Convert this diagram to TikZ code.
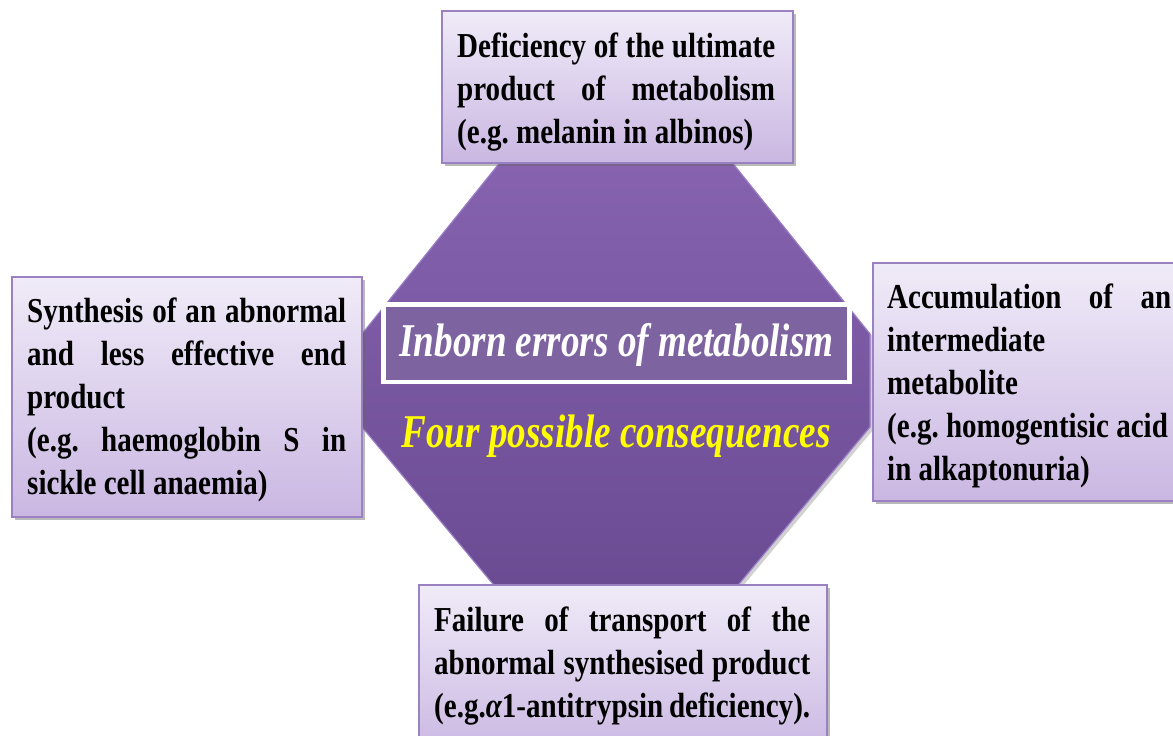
\documentclass[tikz,border=0pt]{standalone}
\usepackage{fontspec}
\setmainfont{Liberation Serif}
\newfontfamily\boxfont[FakeStretch=0.83]{Liberation Serif}
\newfontfamily\ttlfont[FakeStretch=0.79]{Liberation Serif}
\usetikzlibrary{shadows}
\frenchspacing
\definecolor{boxtop}{HTML}{F0EBF8}
\definecolor{boxbot}{HTML}{CAB7E2}
\definecolor{boxline}{HTML}{9A82C2}
\definecolor{octtop}{HTML}{8763B0}
\definecolor{octbot}{HTML}{6A4B92}
\definecolor{ttlfill}{HTML}{7E63A1}
\definecolor{octrim}{HTML}{9A7DC8}
\definecolor{subyellow}{HTML}{FFFF00}
\tikzset{
  cbox/.style={draw=boxline, line width=1.5pt, top color=boxtop, bottom color=boxbot,
    inner sep=0pt, anchor=north west,
    drop shadow={shadow xshift=3pt, shadow yshift=-3pt, opacity=0.45, fill=black!60}},
  btext/.style={anchor=base west, inner sep=0pt, text=black,
    font=\frenchspacing\boxfont\bfseries\fontsize{35}{43}\selectfont},
  bigtext/.style={inner sep=0pt, font=\ttlfont\bfseries\itshape\fontsize{47}{52}\selectfont},
}
\begin{document}
\begin{tikzpicture}[x=1pt,y=-1pt]
\clip (0,0) rectangle (1173,736);
\fill[white] (0,0) rectangle (1173,736);

% central octagon
\fill[black, opacity=0.18] (513,153) -- (365,337) -- (365,430) -- (506,599) -- (732,599) -- (873,430) -- (873,337) -- (725,153) -- cycle;
\draw[octrim, line width=1.2pt, top color=octtop, bottom color=octbot]
  (510,150) -- (362,334) -- (362,427) -- (503,596) -- (729,596) -- (870,427) -- (870,334) -- (722,150) -- cycle;

% title and subtitle
\node[bigtext, draw=white, line width=4.5pt, fill=ttlfill, text=white,
  minimum width=466pt, minimum height=77.5pt, text height=31pt, text depth=5pt,
  drop shadow={shadow xshift=1.5pt, shadow yshift=-1.5pt, opacity=0.3, fill=black}]
  (title) at (616.5,343) {Inborn errors of metabolism};
\node[bigtext, anchor=base, text=subyellow] (sub) at (616,447) {Four possible consequences};

% four boxes
\node[cbox, minimum width=351pt, minimum height=152pt] (topbox) at (441,10) {};
\node[cbox, minimum width=350pt, minimum height=240pt] (leftbox) at (11,276) {};
\node[cbox, minimum width=340pt, minimum height=238pt] (rightbox) at (872,262) {};
\node[cbox, minimum width=408pt, minimum height=170pt] (botbox) at (418,584) {};

\node[btext] (toptext) at (457,57) {\parbox[t]{318pt}{%
  \makebox[318pt][s]{Deficiency of the ultimate}\\
  \makebox[318pt][s]{product of metabolism}\\
  (e.g. melanin in albinos)}};

\node[btext] (lefttext) at (27,322) {\parbox[t]{319pt}{%
  \makebox[319pt][s]{Synthesis of an abnormal}\\
  \makebox[319pt][s]{and less effective end}\\
  product\\
  \makebox[319pt][s]{(e.g. haemoglobin S in}\\
  sickle cell anaemia)}};

\node[btext] (righttext) at (887,308) {\parbox[t]{284pt}{%
  \makebox[284pt][s]{Accumulation of an}\\
  intermediate\\
  metabolite\\
  (e.g. homogentisic acid\\
  in alkaptonuria)}};

\node[btext] (bottext) at (434,631) {\parbox[t]{376pt}{%
  \makebox[376pt][s]{Failure of transport of the}\\
  \makebox[376pt][s]{abnormal synthesised product}\\
  (e.g.{\itshape α}1-antitrypsin deficiency).}};
\end{tikzpicture}
\end{document}
